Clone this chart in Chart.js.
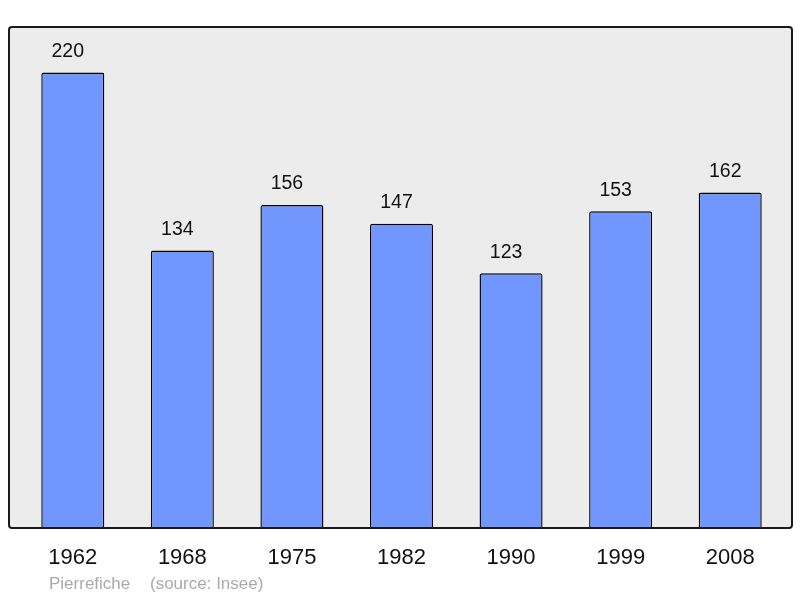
<!DOCTYPE html>
<html>
<head>
<meta charset="utf-8">
<script src="https://cdn.jsdelivr.net/npm/chart.js@4"></script>
<style>
  html, body { margin: 0; padding: 0; background: #fff; }
  #wrap { width: 800px; height: 598px; }
</style>
</head>
<body>
<div id="wrap"><canvas id="pop" width="800" height="598"></canvas></div>
<script>
// Données
const years = ['1962', '1968', '1975', '1982', '1990', '1999', '2008'];
const population = [220, 134, 156, 147, 123, 153, 162];
const yMax = 242;
const footerAuthor = 'Pierrefiche';
const footerSource = '(source: Insee)';

const FONT = '"Liberation Sans", Arial, sans-serif';

function roundRect(ctx, x, y, w, h, r) {
  ctx.beginPath();
  ctx.moveTo(x + r, y);
  ctx.lineTo(x + w - r, y);
  ctx.quadraticCurveTo(x + w, y, x + w, y + r);
  ctx.lineTo(x + w, y + h - r);
  ctx.quadraticCurveTo(x + w, y + h, x + w - r, y + h);
  ctx.lineTo(x + r, y + h);
  ctx.quadraticCurveTo(x, y + h, x, y + h - r);
  ctx.lineTo(x, y + r);
  ctx.quadraticCurveTo(x, y, x + r, y);
  ctx.closePath();
}

// cadre gris derrière les barres
const framePlugin = {
  id: 'frame',
  beforeDatasetsDraw(chart) {
    const { ctx, chartArea: a } = chart;
    ctx.save();
    roundRect(ctx, a.left - 9, a.top, a.right - a.left + 16, a.bottom - a.top, 3);
    ctx.fillStyle = '#ececec';
    ctx.fill();
    ctx.restore();
  },
  afterDatasetsDraw(chart) {
    const { ctx, chartArea: a } = chart;
    ctx.save();
    roundRect(ctx, a.left - 9, a.top, a.right - a.left + 16, a.bottom - a.top, 3);
    ctx.lineWidth = 2;
    ctx.strokeStyle = '#1a1a1a';
    ctx.stroke();

    // valeurs au-dessus des barres
    ctx.fillStyle = '#111';
    ctx.font = '19.5px ' + FONT;
    ctx.textAlign = 'center';
    ctx.textBaseline = 'middle';
    chart.getDatasetMeta(0).data.forEach((bar, i) => {
      ctx.fillText(String(population[i]), bar.x - 5, bar.y - 21);
    });

    // pied de page
    ctx.fillStyle = '#aaaaaa';
    ctx.font = '17px ' + FONT;
    ctx.textAlign = 'left';
    ctx.fillText(footerAuthor, 49, 584);
    ctx.fillText(footerSource, 150, 584);
    ctx.restore();
  }
};

new Chart(document.getElementById('pop'), {
  type: 'bar',
  data: {
    labels: years,
    datasets: [{
      data: population,
      backgroundColor: '#7197ff',
      borderColor: '#000',
      borderWidth: 1.4,
      borderSkipped: 'bottom',
      borderRadius: { topLeft: 2, topRight: 2 },
      categoryPercentage: 1,
      barPercentage: 0.575
    }]
  },
  options: {
    responsive: false,
    animation: false,
    layout: { padding: { left: 18, right: 15, top: 27, bottom: 0 } },
    plugins: { legend: { display: false }, tooltip: { enabled: false } },
    scales: {
      x: {
        grid: { display: false, drawTicks: false },
        border: { display: false },
        ticks: { color: '#111', font: { family: FONT, size: 22 }, padding: 17 },
        afterFit(scale) { scale.height = 70; }
      },
      y: { display: false, min: 0, max: yMax }
    }
  },
  plugins: [framePlugin]
});
</script>
</body>
</html>
